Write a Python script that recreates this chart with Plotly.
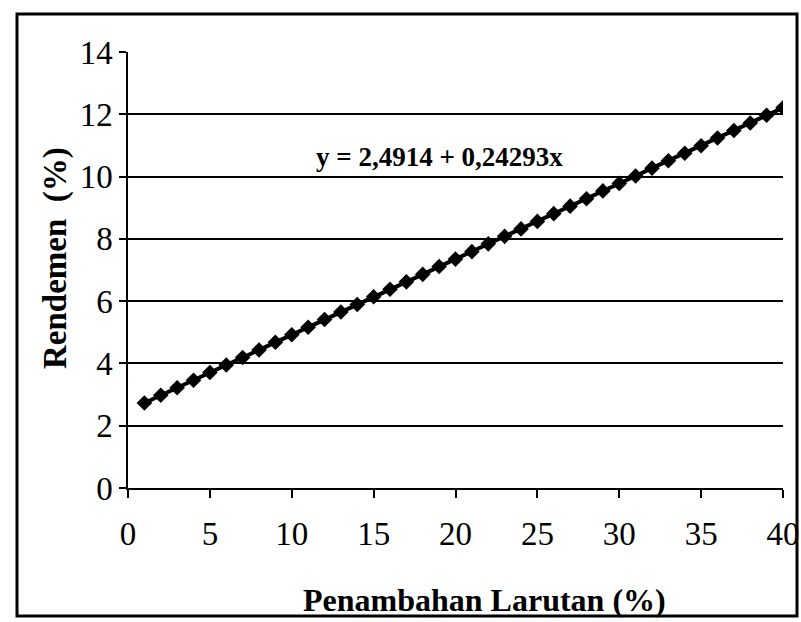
import plotly.graph_objects as go

# Data (linear fit points at 1..40 %)
penambahan = list(range(1, 41))
rendemen = [2.73, 2.98, 3.22, 3.46, 3.71, 3.95, 4.19, 4.43, 4.68, 4.92,
            5.16, 5.41, 5.65, 5.89, 6.14, 6.38, 6.62, 6.86, 7.11, 7.35,
            7.59, 7.84, 8.08, 8.32, 8.56, 8.81, 9.05, 9.29, 9.54, 9.78,
            10.02, 10.27, 10.51, 10.75, 10.99, 11.24, 11.48, 11.72, 11.97, 12.21]
x_ticks = [0, 5, 10, 15, 20, 25, 30, 35, 40]
y_ticks = [0, 2, 4, 6, 8, 10, 12, 14]
equation = "y = 2,4914 + 0,24293x"

FONT = "Liberation Serif"

fig = go.Figure()
fig.add_trace(go.Scatter(
    x=penambahan, y=rendemen, mode="lines+markers",
    line=dict(color="black", width=4),
    marker=dict(symbol="diamond", size=12, color="black"),
    showlegend=False,
))

fig.update_layout(
    width=801, height=622,
    margin=dict(l=128, r=18, t=52, b=134, autoexpand=False),
    paper_bgcolor="white", plot_bgcolor="white",
    font=dict(family=FONT, color="black"),
    xaxis=dict(
        range=[0, 40], tickvals=x_ticks, ticks="outside", ticklen=8,
        tickwidth=1.5, tickcolor="black", showline=True, linecolor="black",
        linewidth=1.5, showgrid=False, zeroline=False, automargin=False,
        ticklabelstandoff=8,
        tickfont=dict(family=FONT, size=33, color="black"),
    ),
    yaxis=dict(
        range=[0, 14], tickvals=y_ticks, ticks="outside", ticklen=7,
        tickwidth=1.5, tickcolor="black", showline=True, linecolor="black",
        linewidth=1.5, showgrid=True, gridcolor="black", gridwidth=1.5,
        zeroline=False, automargin=False,
        tickfont=dict(family=FONT, size=33, color="black"),
    ),
    annotations=[
        dict(text="<b>" + equation + "</b>", xref="paper", yref="paper",
             x=(439 - 128) / 655, y=(488 - 157) / 436, showarrow=False,
             font=dict(family=FONT, size=27, color="black"),
             xanchor="center", yanchor="middle"),
        dict(text="<b>Penambahan Larutan (%)</b>", xref="paper", yref="paper",
             x=(484 - 128) / 655, y=(488 - 600) / 436, showarrow=False,
             font=dict(family=FONT, size=32, color="black"),
             xanchor="center", yanchor="middle"),
        dict(text="<b>Rendemen  (%)</b>", xref="paper", yref="paper",
             x=(55 - 128) / 655, y=(488 - 258) / 436, showarrow=False,
             textangle=-90,
             font=dict(family=FONT, size=33, color="black"),
             xanchor="center", yanchor="middle"),
    ],
    shapes=[
        dict(type="rect", xref="paper", yref="paper",
             x0=(17 - 128) / 655, x1=(797 - 128) / 655,
             y0=(488 - 616) / 436, y1=(488 - 14) / 436,
             line=dict(color="black", width=3)),
    ],
)

fig.write_html(
    "out.html",
    config={"displayModeBar": False, "responsive": False},
    post_script="document.body.style.margin='0';document.body.style.overflow='hidden';",
)
